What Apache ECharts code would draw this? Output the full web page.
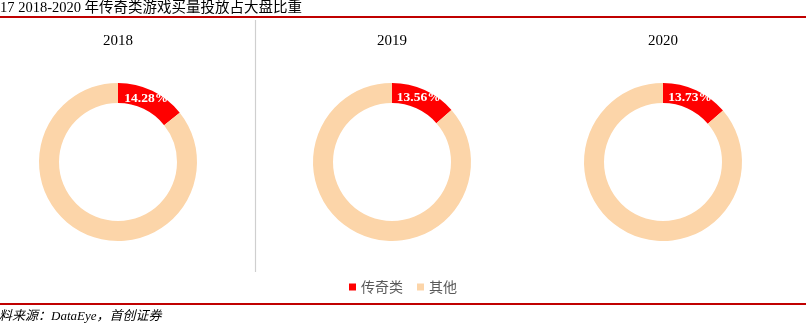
<!DOCTYPE html>
<html><head><meta charset="utf-8">
<script src="https://cdn.jsdelivr.net/npm/echarts@6/dist/echarts.min.js"></script>
<style>html,body{margin:0;padding:0;background:#fff}#c{width:806px;height:332px}</style>
</head><body><div id="c"></div>
<script>
const years = ['2018', '2019', '2020'];
const categories = ['传奇类', '其他'];
const legendShare = [14.28, 13.56, 13.73];
const otherShare = [85.72, 86.44, 86.27];
const centersX = [118, 392, 663];

const chart = echarts.init(document.getElementById('c'));
const colors = ['#FF0000', '#FCD5A9'];
const serif = '"Liberation Serif", "Times New Roman", "Noto Sans CJK SC", serif';

const series = years.map((y, i) => ({
  type: 'pie',
  name: y,
  center: [centersX[i], 162],
  radius: [59, 79],
  startAngle: 90,
  clockwise: true,
  silent: true,
  animation: false,
  label: {
    show: true, position: 'inside', color: '#fff', fontFamily: serif,
    fontWeight: 'bold', fontSize: 13.5, overflow: 'none', width: 80, offset: [-3, 1],
    formatter: p => p.dataIndex === 0 ? p.value.toFixed(2) + '%' : ''
  },
  labelLine: { show: false },
  itemStyle: { borderWidth: 0 },
  data: [
    { name: categories[0], value: legendShare[i], itemStyle: { color: colors[0] } },
    { name: categories[1], value: otherShare[i], itemStyle: { color: colors[1] } }
  ]
}));

const graphics = [
  { type: 'text', left: 0, top: 1, style: { text: '17 2018-2020 年传奇类游戏买量投放占大盘比重', font: '14.5px ' + serif, fill: '#000' } },
  { type: 'rect', shape: { x: 0, y: 16, width: 806, height: 2 }, style: { fill: '#C00000' } },
  { type: 'rect', shape: { x: 0, y: 303, width: 806, height: 2 }, style: { fill: '#C00000' } },
  { type: 'line', shape: { x1: 255.5, y1: 20, x2: 255.5, y2: 272 }, style: { stroke: '#CFCFCF', lineWidth: 1.2 } },
  { type: 'text', left: -1, top: 310, style: { text: '料来源：DataEye，首创证券', font: 'italic 13px ' + serif, fill: '#000' } }
];
years.forEach((y, i) => {
  graphics.push({ type: 'text', x: centersX[i], y: 41, style: { text: y, font: '15px ' + serif, fill: '#000', align: 'center', verticalAlign: 'middle' } });
});

chart.setOption({
  animation: false,
  legend: {
    data: categories, bottom: 33, left: 'center', itemWidth: 7, itemHeight: 7, itemGap: 14,
    icon: 'rect',
    textStyle: { fontSize: 14, color: '#595959', fontFamily: '"Noto Sans CJK SC", sans-serif' }
  },
  graphic: graphics,
  series: series
});
</script></body></html>
